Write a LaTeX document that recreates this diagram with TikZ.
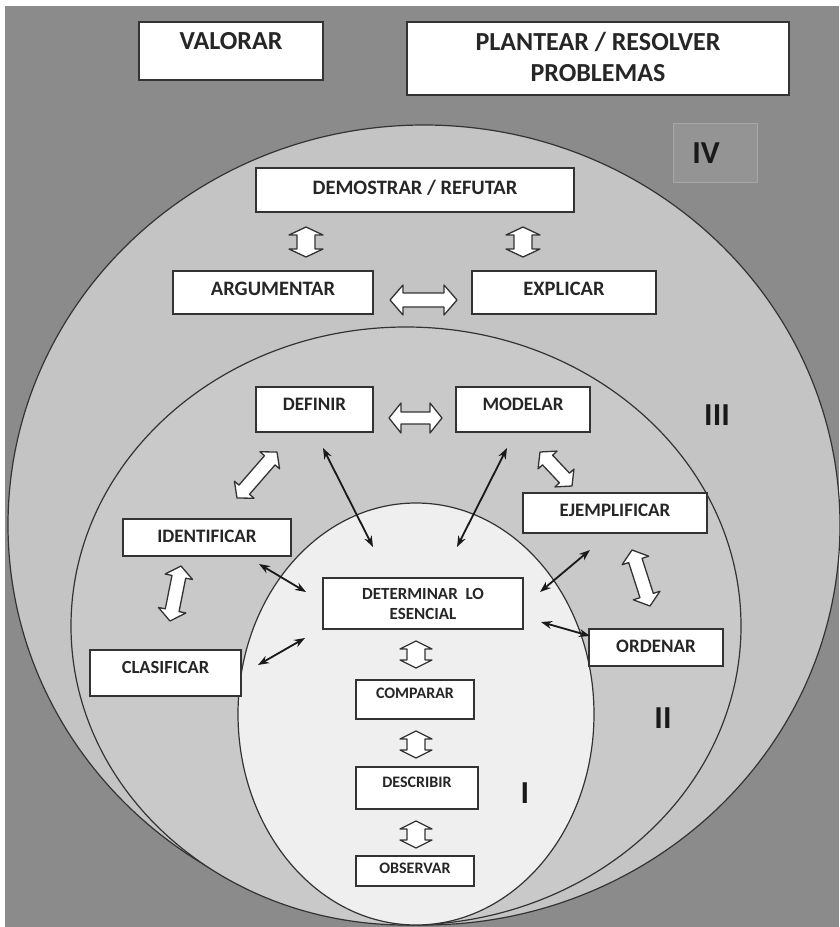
\documentclass[tikz,border=0pt]{standalone}
\usepackage{fontspec}
\setmainfont{Carlito}
\usetikzlibrary{calc,arrows.meta}

\definecolor{backgray}{HTML}{8B8B8B}
\definecolor{ringgray}{HTML}{C4C4C4}
\definecolor{midgray}{HTML}{C9C9C9}
\definecolor{coregray}{HTML}{EFEFEF}
\definecolor{edgegray}{HTML}{333333}
\definecolor{inkgray}{HTML}{262626}

% box with its text set a fixed distance below the top edge
% #1 name, #2 #3 top-left, #4 #5 bottom-right, #6 baseline offset, #7 font, #8 text
\newcommand\capbox[8]{%
  \pgfmathsetmacro\cbw{#4-#2}%
  \pgfmathsetmacro\cbd{#5-#3-#6}%
  \node[box, font=#7, minimum width=\cbw pt, text height=#6pt, text depth=\cbd pt,
        anchor=north west] (#1) at (#2,#3) {#8};}

% hollow double block arrow between two named points
% #1 start, #2 end, #3 head length, #4 head half width, #5 shaft half width
\newcommand\blockarrow[5]{%
  \path ($(#1)!#3!(#2)$) coordinate (ba-p) ($(#2)!#3!(#1)$) coordinate (ba-q);
  \draw[hollow] (#1) -- ($(ba-p)!#4!90:(#2)$) -- ($(ba-p)!#5!90:(#2)$)
    -- ($(ba-q)!#5!-90:(#1)$) -- ($(ba-q)!#4!-90:(#1)$) -- (#2)
    -- ($(ba-q)!#4!90:(#1)$) -- ($(ba-q)!#5!90:(#1)$)
    -- ($(ba-p)!#5!-90:(#2)$) -- ($(ba-p)!#4!-90:(#2)$) -- cycle;}

\newcommand\fbig{\fontsize{26}{31}\selectfont\bfseries}
\newcommand\fupper{\fontsize{20.5}{24}\selectfont\bfseries}
\newcommand\fmid{\fontsize{19}{23}\selectfont\bfseries}
\newcommand\fsmall{\fontsize{17}{20}\selectfont\bfseries}
\newcommand\fclas{\fontsize{18.5}{22}\selectfont\bfseries}
\newcommand\ftiny{\fontsize{16}{19}\selectfont\bfseries}

\begin{document}
\begin{tikzpicture}[x=1pt, y=-1pt,
  box/.style={draw=edgegray, line width=1.4pt, fill=white, text=inkgray,
              inner xsep=0pt, inner ysep=0pt, outer sep=0pt, align=center},
  hollow/.style={draw=edgegray, line width=1.3pt, fill=white, line join=round},
  conn/.style={draw=black!90, line width=1.8pt,
               {Stealth[length=11pt,width=8pt]}-{Stealth[length=11pt,width=8pt]}},
  roman/.style={font=\fontsize{32}{36}\selectfont\bfseries, text=black!90, inner sep=0pt},
  level/.style={draw=edgegray, line width=1.2pt}]

\useasboundingbox (0,0) rectangle (839,927);
\fill[white] (0,0) rectangle (839,927);
\fill[backgray] (5,6) rectangle (839,927);

% nested levels
\filldraw[level, fill=ringgray] (424,525) ellipse [x radius=416pt, y radius=400pt];
\filldraw[level, fill=midgray] (406,626) ellipse [x radius=335pt, y radius=299pt];
\filldraw[level, fill=coregray] (416,714) ellipse [x radius=178pt, y radius=211pt];

% level IV tag
\draw[draw=black!35, fill=black!42, line width=0.8pt] (673,123) rectangle (757,182);
\node[roman] (lab4) at (706,153) {IV};
\node[roman] (lab3) at (717,415) {III};
\node[roman] (lab2) at (663,718) {II};
\node[roman] (lab1) at (525,793) {I};

% boxes
\capbox{valorar}{139}{22}{323}{80}{27}{\fbig}{VALORAR}
\capbox{plantear}{407}{22}{789}{95}{28}{\fbig}{\begin{tabular}[t]{@{}c@{}}PLANTEAR / RESOLVER\\PROBLEMAS\end{tabular}}
\capbox{demostrar}{256}{168}{574}{212}{26}{\fupper}{DEMOSTRAR / REFUTAR}
\capbox{argumentar}{173}{271}{373}{314}{24}{\fupper}{ARGUMENTAR}
\capbox{explicar}{472}{271}{656}{314}{24}{\fupper}{EXPLICAR}
\capbox{definir}{256}{387}{373}{432}{23}{\fmid}{DEFINIR}
\capbox{modelar}{456}{387}{590}{432}{23}{\fmid}{MODELAR}
\capbox{ejemplificar}{523}{493}{707}{533}{23}{\fmid}{EJEMPLIFICAR}
\capbox{identificar}{123}{519}{291}{556}{23}{\fmid}{IDENTIFICAR}
\capbox{determinar}{323}{578}{523}{629}{21}{\fsmall}{\begin{tabular}[t]{@{}c@{}}DETERMINAR\ \ LO\\ESENCIAL\end{tabular}}
\capbox{ordenar}{589}{629}{723}{666}{23}{\fmid}{ORDENAR}
\capbox{clasificar}{90}{650}{241}{696}{23}{\fclas}{CLASIFICAR}
\capbox{comparar}{356}{680}{474}{719}{18}{\ftiny}{COMPARAR}
\capbox{describir}{356}{767}{478}{809}{20}{\ftiny}{DESCRIBIR}
\capbox{observar}{356}{856}{474}{886}{17}{\ftiny}{OBSERVAR}

% ends of the block arrows
\coordinate (dem-arg-a) at (306,227); \coordinate (dem-arg-b) at (306,257);
\coordinate (dem-exp-a) at (523,227); \coordinate (dem-exp-b) at (523,257);
\coordinate (arg-exp-a) at (390,300); \coordinate (arg-exp-b) at (457,300);
\coordinate (def-mod-a) at (389,418); \coordinate (def-mod-b) at (442,418);
\coordinate (def-ide-a) at (277,452); \coordinate (def-ide-b) at (237,498);
\coordinate (mod-eje-a) at (540,452); \coordinate (mod-eje-b) at (572,486);
\coordinate (ide-cla-a) at (181,566); \coordinate (ide-cla-b) at (170,621);
\coordinate (eje-ord-a) at (632,550); \coordinate (eje-ord-b) at (650,606);
\coordinate (det-com-a) at (416,641); \coordinate (det-com-b) at (416,668);
\coordinate (com-des-a) at (416,731); \coordinate (com-des-b) at (416,758);
\coordinate (des-obs-a) at (416,821); \coordinate (des-obs-b) at (416,848);

\blockarrow{dem-arg-a}{dem-arg-b}{8pt}{17pt}{9pt}
\blockarrow{dem-exp-a}{dem-exp-b}{8pt}{17pt}{9pt}
\blockarrow{arg-exp-a}{arg-exp-b}{13pt}{15pt}{7pt}
\blockarrow{def-mod-a}{def-mod-b}{12pt}{15pt}{6pt}
\blockarrow{def-ide-a}{def-ide-b}{11pt}{13pt}{7pt}
\blockarrow{mod-eje-a}{mod-eje-b}{11pt}{13pt}{7pt}
\blockarrow{ide-cla-a}{ide-cla-b}{11pt}{14pt}{7pt}
\blockarrow{eje-ord-a}{eje-ord-b}{11pt}{14pt}{7pt}
\blockarrow{det-com-a}{det-com-b}{8pt}{16pt}{9pt}
\blockarrow{com-des-a}{com-des-b}{8pt}{16pt}{9pt}
\blockarrow{des-obs-a}{des-obs-b}{8pt}{16pt}{9pt}

% ends of the thin double arrows toward DETERMINAR LO ESENCIAL
\coordinate (def-det-a) at (323,448); \coordinate (def-det-b) at (373,547);
\coordinate (mod-det-a) at (507,448); \coordinate (mod-det-b) at (457,547);
\coordinate (ide-det-a) at (259,564); \coordinate (ide-det-b) at (306,592);
\coordinate (eje-det-a) at (590,550); \coordinate (eje-det-b) at (540,592);
\coordinate (ord-det-a) at (590,636); \coordinate (ord-det-b) at (541,622);
\coordinate (cla-det-a) at (258,665); \coordinate (cla-det-b) at (305,638);

\draw[conn] (def-det-a) -- (def-det-b);
\draw[conn] (mod-det-a) -- (mod-det-b);
\draw[conn] (ide-det-a) -- (ide-det-b);
\draw[conn] (eje-det-a) -- (eje-det-b);
\draw[conn] (ord-det-a) -- (ord-det-b);
\draw[conn] (cla-det-a) -- (cla-det-b);
\end{tikzpicture}
\end{document}
